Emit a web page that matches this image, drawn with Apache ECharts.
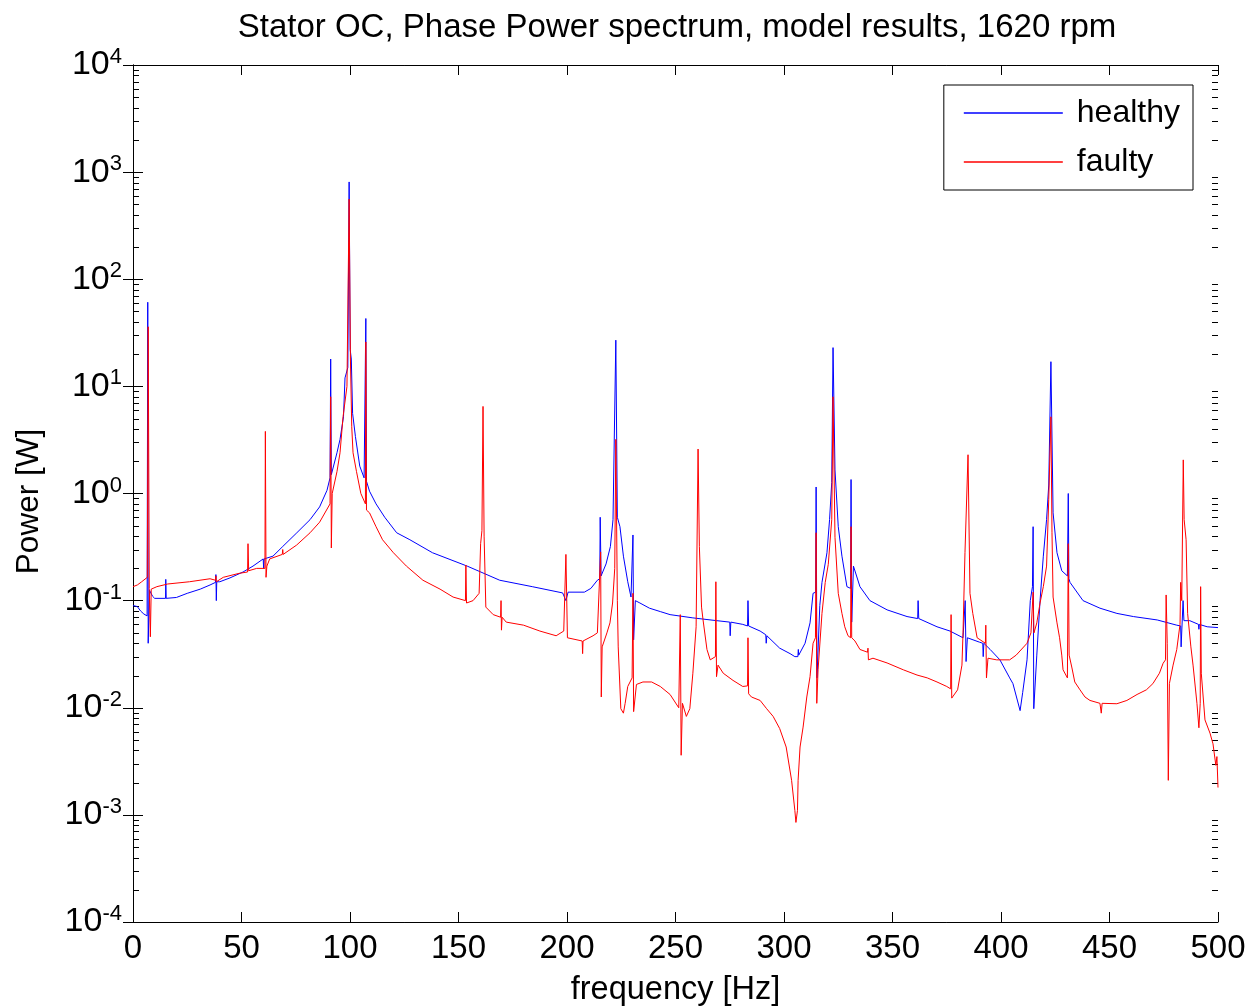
<!DOCTYPE html>
<html>
<head>
<meta charset="utf-8">
<script src="https://cdn.jsdelivr.net/npm/echarts@6/dist/echarts.min.js"></script>
<style>html,body{margin:0;padding:0;background:#fff;}#c{width:1252px;height:1007px;}</style>
</head>
<body>
<div id="c"></div>
<script>
const titleText = 'Stator OC, Phase Power spectrum, model results, 1620 rpm';
const seriesNames = ['healthy', 'faulty'];
const yMinorMultipliers = [2, 3, 4, 5, 6, 7, 8, 9];
const yDecades = [-4, -3, -2, -1, 0, 1, 2, 3];

// [frequency Hz, power W]
const healthyData = [[0,0.09],[2,0.088],[3.5,0.08],[5,0.075],[6.5,0.072],[6.8,61],[7.0,0.04],[7.6,0.125],[9,0.11],[10,0.105],[15,0.105],[15.1,0.158],[15.3,0.105],[20,0.107],[25,0.117],[31,0.128],[35.5,0.14],[38.0,0.148],[38.2,0.175],[38.4,0.1],[38.6,0.15],[40,0.15],[44.7,0.163],[50.7,0.185],[55.3,0.21],[60,0.245],[60.2,0.2],[60.4,0.245],[64.5,0.26],[69,0.32],[75.5,0.43],[81.6,0.57],[86,0.75],[89.4,1.07],[90.8,1.4],[91.1,18],[91.4,1.5],[94,2.4],[95.4,3.2],[97,5.2],[97.7,12],[99,15],[99.6,810],[100.1,22],[100.6,18],[101.2,5.6],[102.5,3.4],[104.5,1.8],[106.5,1.4],[107.1,1.35],[107.3,43],[107.6,1.3],[109,1.05],[112,0.8],[116,0.6],[121.5,0.43],[127.6,0.37],[138,0.28],[154,0.21],[169,0.155],[184,0.135],[198,0.118],[199.5,0.1],[200.5,0.12],[208,0.12],[211,0.13],[214,0.155],[215.1,0.16],[215.3,0.6],[215.7,0.17],[218,0.22],[220,0.32],[221.2,0.57],[222.5,27],[223.2,0.6],[224.4,0.49],[226,0.26],[228,0.15],[229.5,0.108],[230.2,0.11],[230.4,0.41],[230.7,0.043],[231.5,0.1],[233.6,0.095],[238,0.085],[243,0.079],[247.5,0.074],[258,0.069],[269,0.065],[275,0.063],[275.2,0.047],[275.5,0.063],[281,0.06],[283.2,0.058],[283.4,0.1],[283.7,0.058],[289,0.052],[291.6,0.048],[291.8,0.04],[292.1,0.047],[298,0.036],[302.8,0.032],[305,0.03],[306.4,0.03],[306.6,0.035],[306.8,0.031],[309.7,0.04],[312,0.062],[313.4,0.117],[314.6,0.12],[314.8,1.15],[315.2,0.019],[316.5,0.09],[317.5,0.148],[319.8,0.28],[321,0.57],[322,1.27],[322.6,23],[323.5,1.66],[325,0.49],[326.7,0.26],[329,0.135],[330.7,0.13],[330.9,1.35],[331.2,0.063],[332,0.21],[335,0.135],[339.6,0.1],[347.5,0.082],[356.7,0.071],[361.6,0.068],[361.8,0.1],[362.1,0.068],[370.5,0.057],[376.5,0.052],[382.5,0.045],[383.5,0.1],[383.9,0.027],[384.5,0.045],[390,0.041],[391.6,0.04],[391.8,0.03],[392.1,0.04],[395,0.035],[399.5,0.028],[404,0.019],[405.5,0.0168],[408.8,0.0094],[410,0.0139],[412,0.028],[413.5,0.1],[414.5,0.135],[414.8,0.49],[415.1,0.0098],[416.5,0.031],[418,0.1],[419.5,0.26],[421,0.57],[422,1.2],[423,17],[424,0.66],[425.8,0.28],[428,0.19],[430.6,0.17],[431,1.0],[431.3,0.16],[431.8,0.148],[437.8,0.1],[445.6,0.085],[453.4,0.076],[461,0.071],[472,0.066],[481,0.059],[482.8,0.058],[483,0.037],[483.9,0.1],[484.3,0.065],[487,0.065],[491,0.06],[491.2,0.054],[491.4,0.06],[495,0.057],[500,0.056]];

const faultyData = [[0,0.135],[2,0.14],[4,0.15],[6.6,0.165],[7.0,36],[7.5,0.13],[8.0,0.046],[8.4,0.128],[11,0.135],[16,0.143],[26,0.15],[35.5,0.16],[38,0.155],[38.2,0.17],[38.4,0.15],[41.6,0.165],[49,0.18],[52.8,0.185],[53,0.34],[53.3,0.19],[57,0.2],[60.8,0.2],[61,3.8],[61.3,0.165],[61.7,0.21],[63,0.245],[68.8,0.27],[69,0.3],[69.2,0.27],[75.4,0.33],[81.6,0.43],[86,0.54],[90.8,0.8],[91.1,8],[91.4,0.31],[91.8,1.0],[94,1.6],[95.4,2.4],[96.8,5.2],[98.6,10],[99.6,560],[100.2,18],[100.8,4.2],[101.4,2.4],[103,1.6],[105,1.0],[107.1,0.8],[107.3,26],[107.6,0.7],[109,0.66],[112,0.49],[115,0.37],[120,0.28],[126,0.21],[133.6,0.155],[141.5,0.128],[147.5,0.108],[153.2,0.1],[153.4,0.215],[153.7,0.095],[156.7,0.1],[159.5,0.117],[160.2,0.34],[160.8,0.45],[161.3,6.5],[161.8,0.4],[162.6,0.087],[166,0.074],[169.4,0.07],[169.6,0.1],[169.8,0.053],[170.1,0.07],[172,0.063],[180,0.059],[187.5,0.052],[195,0.047],[198.5,0.052],[199.5,0.27],[200.2,0.045],[207,0.042],[207.2,0.032],[207.4,0.042],[212,0.047],[214,0.05],[215.5,0.285],[215.8,0.0126],[216.2,0.037],[218.4,0.05],[219.8,0.062],[221,0.095],[222,0.2],[222.5,3.2],[223.2,0.1],[223.6,0.037],[224.8,0.0098],[226,0.0089],[226.8,0.011],[228,0.0158],[230,0.019],[230.4,0.117],[230.7,0.0092],[232,0.0165],[235,0.0174],[239,0.0174],[243,0.0158],[247.5,0.0133],[251.5,0.01],[252.2,0.074],[252.6,0.0036],[253.2,0.011],[255,0.0083],[256.6,0.0098],[258,0.021],[259.5,0.057],[260.4,2.6],[261,0.32],[262,0.087],[262.7,0.066],[264.5,0.035],[266,0.028],[268.4,0.03],[268.6,0.15],[268.9,0.0195],[269.6,0.025],[272,0.021],[276.5,0.018],[281,0.0158],[283.2,0.016],[283.4,0.045],[283.7,0.0135],[285,0.0126],[289,0.0117],[292,0.0098],[295,0.0083],[298,0.0064],[301,0.0043],[303.5,0.0021],[305,0.0011],[305.5,0.00085],[306.2,0.0011],[306.5,0.0021],[307.4,0.0043],[308.8,0.0066],[310.5,0.0126],[312,0.0195],[313.4,0.04],[314.5,0.045],[314.8,0.43],[315.1,0.011],[315.7,0.0226],[317.5,0.076],[319,0.148],[320.4,0.218],[322,0.57],[322.6,8],[323.5,0.39],[325,0.117],[326.7,0.076],[328,0.057],[329.5,0.047],[330.7,0.045],[330.9,0.49],[331.2,0.045],[332.7,0.042],[335,0.035],[338.5,0.033],[338.7,0.036],[338.9,0.028],[341,0.029],[347.5,0.0262],[355,0.0226],[361.3,0.0202],[366,0.019],[370.5,0.0174],[375,0.0158],[376.8,0.015],[377,0.074],[377.3,0.0123],[378,0.0126],[380,0.0147],[382,0.025],[382.5,0.05],[383.4,0.28],[384.8,2.3],[385.7,0.117],[387,0.076],[389,0.045],[392.8,0.04],[393,0.059],[393.3,0.019],[394,0.029],[398,0.028],[404,0.028],[407,0.031],[412,0.04],[413.8,0.05],[414.8,0.12],[415.2,0.05],[416.5,0.062],[418,0.095],[419.5,0.135],[421,0.21],[422,0.88],[423,5.2],[423.5,0.43],[424,0.108],[425.8,0.062],[427,0.045],[428,0.031],[428.6,0.0226],[430.6,0.019],[431,0.34],[431.4,0.031],[432.7,0.0235],[434,0.0174],[436.4,0.0147],[438.7,0.0126],[441,0.0117],[445.6,0.011],[446.2,0.0089],[446.6,0.011],[453.4,0.0109],[458,0.0117],[462.7,0.0133],[467,0.0147],[470,0.0168],[473,0.021],[474.7,0.026],[475.8,0.028],[476.1,0.113],[476.6,0.04],[477.1,0.0021],[477.6,0.0168],[479.3,0.025],[481,0.035],[482.5,0.06],[482.8,0.148],[483.3,0.1],[484,2.06],[484.4,0.57],[485.3,0.37],[486,0.076],[487.5,0.037],[488.5,0.025],[490.3,0.011],[491.2,0.0065],[491.8,0.011],[492,0.135],[492.3,0.021],[493,0.021],[494,0.0077],[496.3,0.0058],[497.7,0.0046],[499,0.0029],[499.5,0.0035],[500,0.0018]];

const minorTickValues = [];
yDecades.forEach(function (d) {
  yMinorMultipliers.forEach(function (m) { minorTickValues.push([m * Math.pow(10, d)]); });
});

const FONT = 'Liberation Sans, Arial, Helvetica, sans-serif';
const chart = echarts.init(document.getElementById('c'), null, {renderer: 'canvas'});

function yLabel(v) {
  const e = Math.round(Math.log10(v));
  return '{b|10}{s|' + e + '}';
}

const axisCommon = {
  axisLine: {show: true, lineStyle: {color: '#000', width: 1}},
  splitLine: {show: false},
};

chart.setOption({
  animation: false,
  backgroundColor: '#fff',
  title: {
    text: titleText, left: 672, textAlign: 'center', top: 6,
    textStyle: {fontFamily: FONT, fontSize: 33, fontWeight: 'normal', color: '#000'}
  },
  legend: {
    data: seriesNames, orient: 'vertical', right: 59, top: 85,
    backgroundColor: '#fff', borderColor: '#000', borderWidth: 1,
    padding: [12, 13, 12, 20], itemGap: 17,
    icon: 'rect', itemWidth: 99, itemHeight: 1.6,
    textStyle: {fontFamily: FONT, fontSize: 32, color: '#000', lineHeight: 31, padding: [0, 0, 0, 9]}
  },
  grid: {left: 133, right: 34, top: 65, bottom: 85, containLabel: false, outerBoundsMode: 'none'},
  xAxis: [
    Object.assign({}, axisCommon, {
      type: 'value', min: 0, max: 500, interval: 50, position: 'bottom',
      name: 'frequency [Hz]', nameLocation: 'middle', nameGap: 52,
      nameTextStyle: {fontFamily: FONT, fontSize: 32.5, color: '#000'},
      axisTick: {show: true, inside: true, length: 10, lineStyle: {color: '#000'}},
      axisLabel: {fontFamily: FONT, fontSize: 33, color: '#000', margin: 10}
    }),
    Object.assign({}, axisCommon, {
      type: 'value', min: 0, max: 500, interval: 50, position: 'top',
      axisTick: {show: true, inside: true, length: 10, lineStyle: {color: '#000'}},
      axisLabel: {show: false}
    })
  ],
  yAxis: [
    Object.assign({}, axisCommon, {
      type: 'log', logBase: 10, min: 1e-4, max: 1e4, interval: 1, position: 'left',
      name: 'Power [W]', nameLocation: 'middle', nameGap: 88, nameRotate: 90,
      nameTextStyle: {fontFamily: FONT, fontSize: 31.5, color: '#000', padding: [0, 16, 0, 0]},
      axisTick: {show: true, inside: true, length: 10, lineStyle: {color: '#000'}},
      axisLabel: {
        formatter: yLabel, margin: 11, color: '#000',
        rich: {
          b: {fontFamily: FONT, fontSize: 34, lineHeight: 38, color: '#000'},
          s: {fontFamily: FONT, fontSize: 22, lineHeight: 2, verticalAlign: 'top', color: '#000'}
        }
      }
    }),
    Object.assign({}, axisCommon, {
      type: 'log', logBase: 10, min: 1e-4, max: 1e4, interval: 1, position: 'right',
      axisTick: {show: true, inside: true, length: 10, lineStyle: {color: '#000'}},
      axisLabel: {show: false}
    })
  ],
  series: [
    {
      type: 'custom', name: 'minorTicks', silent: true, xAxisIndex: 0, yAxisIndex: 0,
      data: minorTickValues, z: 1,
      renderItem: function (params, api) {
        const v = api.value(0);
        const pL = api.coord([0, v]);
        const pR = api.coord([500, v]);
        const st = {stroke: '#000', lineWidth: 1};
        return {type: 'group', children: [
          {type: 'line', shape: {x1: pL[0], y1: Math.round(pL[1]) + 0.5, x2: pL[0] + 6, y2: Math.round(pL[1]) + 0.5}, style: st},
          {type: 'line', shape: {x1: pR[0] - 6, y1: Math.round(pR[1]) + 0.5, x2: pR[0], y2: Math.round(pR[1]) + 0.5}, style: st}
        ]};
      }
    },
    {
      type: 'line', name: 'healthy', data: healthyData, showSymbol: false, symbol: 'none',
      lineStyle: {color: '#0000ff', width: 1}, itemStyle: {color: '#0000ff'}, z: 3
    },
    {
      type: 'line', name: 'faulty', data: faultyData, showSymbol: false, symbol: 'none',
      lineStyle: {color: '#ff0000', width: 1}, itemStyle: {color: '#ff0000'}, z: 4
    }
  ]
});
</script>
</body>
</html>
